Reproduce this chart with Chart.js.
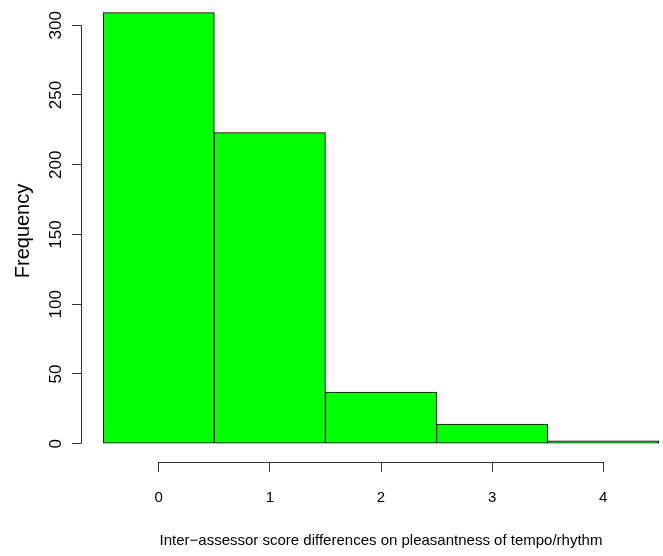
<!DOCTYPE html>
<html><head><meta charset="utf-8">
<script src="https://cdn.jsdelivr.net/npm/chart.js@4/dist/chart.umd.min.js"></script>
<style>html,body{margin:0;padding:0;background:#fff;overflow:hidden}#wrap{width:700px;height:556px;position:relative}</style>
</head><body><div id="wrap"><canvas id="c"></canvas></div>
<script>
const categories = [0, 1, 2, 3, 4];
const frequencies = [309, 223, 37, 14, 2];
const xTickValues = [0, 1, 2, 3, 4];
const yTickValues = [0, 50, 100, 150, 200, 250, 300];
const xTitle = 'Inter\u2212assessor score differences on pleasantness of tempo/rhythm';
const yTitle = 'Frequency';

const FAMILY = '"Liberation Sans", Arial, Helvetica, sans-serif';
const axisColor = '#333';

const axisLines = {
  id: 'axisLines',
  afterDraw(chart) {
    const {ctx, chartArea, scales: {x, y}} = chart;
    ctx.save();
    ctx.strokeStyle = axisColor;
    ctx.lineWidth = 1;
    ctx.beginPath();
    const ax = Math.round(chartArea.left) + 0.5;
    ctx.moveTo(ax, y.getPixelForValue(yTickValues[0]));
    ctx.lineTo(ax, y.getPixelForValue(yTickValues[yTickValues.length - 1]));
    const ay = Math.round(chartArea.bottom) + 0.5;
    ctx.moveTo(x.getPixelForValue(xTickValues[0]), ay);
    ctx.lineTo(x.getPixelForValue(xTickValues[xTickValues.length - 1]), ay);
    ctx.stroke();
    ctx.restore();
  }
};

new Chart(document.getElementById('c'), {
  type: 'bar',
  data: {
    datasets: [{
      data: categories.map((c, i) => ({x: c, y: frequencies[i]})),
      backgroundColor: '#00FF00',
      borderColor: '#000',
      borderWidth: 1,
      borderSkipped: false,
      barPercentage: 1,
      categoryPercentage: 1
    }]
  },
  options: {
    responsive: true,
    maintainAspectRatio: false,
    animation: false,
    devicePixelRatio: 1,
    layout: {padding: {left: 0, right: 19, top: 0, bottom: 0}},
    plugins: {legend: {display: false}, tooltip: {enabled: false}},
    scales: {
      x: {
        type: 'linear',
        offset: false,
        min: -0.7,
        max: 4.7,
        afterBuildTicks: s => { s.ticks = xTickValues.map(v => ({value: v})); },
        afterFit: s => { s.height = 94; s.paddingLeft = 0; s.paddingRight = 0; },
        grid: {offset: false, drawOnChartArea: false, drawTicks: true, tickLength: 10, color: axisColor},
        border: {display: false},
        ticks: {color: '#000', font: {family: FAMILY, size: 15}, padding: 17, maxRotation: 0, autoSkip: false},
        title: {display: true, text: xTitle, color: '#000', font: {family: FAMILY, size: 15}, padding: {top: 0, bottom: 6}}
      },
      y: {
        min: -13.1,
        max: 318.1,
        afterBuildTicks: s => { s.ticks = yTickValues.map(v => ({value: v})); },
        afterFit: s => { s.width = 81; s.paddingTop = 0; s.paddingBottom = 0; },
        grid: {drawOnChartArea: false, drawTicks: true, tickLength: 9, color: axisColor},
        border: {display: false},
        ticks: {color: '#000', font: {family: FAMILY, size: 17}, minRotation: 90, maxRotation: 90, crossAlign: 'center', padding: 2, autoSkip: false},
        title: {display: true, text: yTitle, color: '#000', font: {family: FAMILY, size: 20}, padding: {top: 11, bottom: 0}}
      }
    }
  },
  plugins: [axisLines]
});
</script></body></html>
